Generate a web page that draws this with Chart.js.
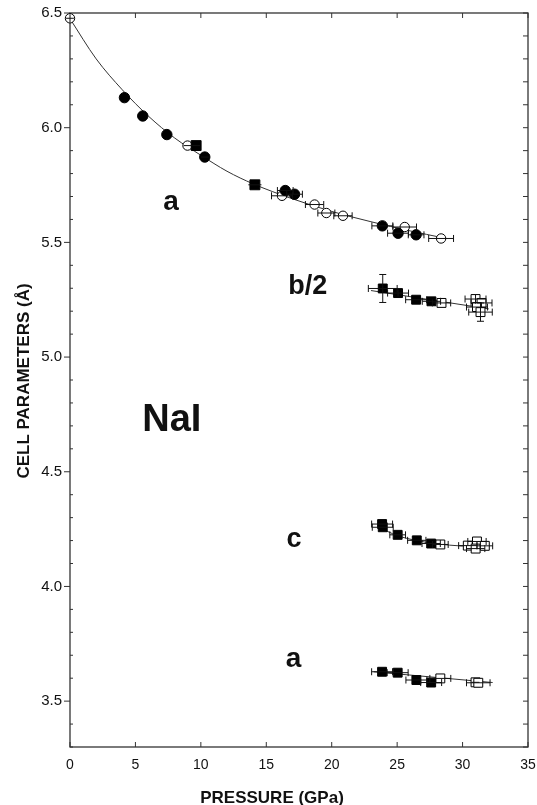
<!DOCTYPE html>
<html>
<head>
<meta charset="utf-8">
<script src="https://cdn.jsdelivr.net/npm/chart.js@4.4.1/dist/chart.umd.min.js"></script>
<style>
	html, body { margin: 0; padding: 0; background: #fff; }
	#wrap { position: relative; width: 537px; height: 805px; }
</style>
</head>
<body>
<div id="wrap"><canvas id="chart"></canvas></div>
<script>
"use strict";

// tick labels
const xTicks = [0, 5, 10, 15, 20, 25, 30, 35];
const yTicks = [3.5, 4.0, 4.5, 5.0, 5.5, 6.0, 6.5];

// a (NaCl-type phase), fitted curve
const aFitP = [0, 2, 4, 6, 8, 10, 12, 14, 17, 20, 23, 26, 28.5];
const aFitV = [6.475, 6.30, 6.165, 6.05, 5.955, 5.88, 5.81, 5.755, 5.69, 5.635, 5.59, 5.55, 5.52];

// a, filled circles
const aFillP = [4.16, 5.56, 7.40, 10.30, 16.45, 17.16, 23.87, 25.07, 26.45];
const aFillV = [6.131, 6.051, 5.970, 5.872, 5.726, 5.710, 5.572, 5.540, 5.533];
const aFillXErr = [0, 0, 0, 0.3, 0.6, 0.6, 0.8, 0.8, 0.6];

// a, filled squares
const aSqP = [9.64, 14.13];
const aSqV = [5.922, 5.751];
const aSqXErr = [0.3, 0.5];

// a, open circles
const aOpenP = [0, 8.98, 16.2, 18.69, 19.59, 20.86, 25.58, 28.36];
const aOpenV = [6.477, 5.922, 5.703, 5.665, 5.628, 5.616, 5.567, 5.517];
const aOpenXErr = [0.3, 0.3, 0.8, 0.7, 0.65, 0.7, 0.9, 0.95];
const aOpenYErr = [0.017, 0, 0, 0, 0, 0, 0, 0];

// b/2 (high pressure phase)
const bFitP = [23.0, 32.0];
const bFitV = [5.29, 5.21];
const bFillP = [23.9, 25.07, 26.45, 27.62];
const bFillV = [5.299, 5.279, 5.250, 5.243];
const bFillXErr = [1.1, 0.8, 0.8, 0.7];
const bFillYErr = [0.061, 0.015, 0, 0];
const bOpenP = [28.39, 30.99, 31.45, 31.1, 31.37];
const bOpenV = [5.236, 5.253, 5.236, 5.218, 5.196];
const bOpenXErr = [0.7, 0.8, 0.8, 0.8, 0.9];
const bOpenYErr = [0, 0.02, 0, 0, 0.04];

// c
const cFitP = [23.6, 25, 26.5, 28, 30, 32];
const cFitV = [4.258, 4.222, 4.2, 4.186, 4.176, 4.172];
const cFillP = [23.85, 23.9, 25.04, 26.5, 27.6];
const cFillV = [4.272, 4.258, 4.225, 4.201, 4.187];
const cFillXErr = [0.8, 0.8, 0.6, 0.7, 0.7];
const cOpenP = [28.3, 30.4, 31.1, 31.0, 31.7];
const cOpenV = [4.183, 4.178, 4.196, 4.165, 4.177];
const cOpenXErr = [0.6, 0.7, 0.7, 0.7, 0.6];

// a (high pressure phase)
const a2FitP = [23.2, 32.3];
const a2FitV = [3.628, 3.581];
const a2FillP = [23.85, 25.04, 26.47, 27.6];
const a2FillV = [3.628, 3.624, 3.592, 3.581];
const a2FillXErr = [0.8, 0.8, 0.8, 0.8];
const a2OpenP = [28.3, 30.99, 31.2];
const a2OpenV = [3.599, 3.582, 3.580];
const a2OpenXErr = [0.8, 0.3, 0.9];

const toPts = (p, v) => p.map((x, i) => ({ x: x, y: v[i] }));

function fitLine(p, v) {
	return {
		data: toPts(p, v),
		showLine: true,
		borderColor: "#333",
		borderWidth: 1,
		pointRadius: 0,
		cubicInterpolationMode: "monotone",
		order: 10
	};
}

function markers(p, v, style, filled, radius, xErr, yErr) {
	return {
		data: toPts(p, v),
		showLine: false,
		pointStyle: style,
		pointRadius: radius,
		pointBackgroundColor: filled ? "#000" : "#fff",
		pointBorderColor: "#000",
		pointBorderWidth: 1,
		clip: false,
		xErr: xErr || [],
		yErr: yErr || [],
		order: 1
	};
}

// horizontal / vertical error bars, drawn through the library scales
const errorBars = {
	id: "errorBars",
	afterDatasetsDraw(chart) {
		const ctx = chart.ctx;
		const xs = chart.scales.x, ys = chart.scales.y;
		ctx.save();
		ctx.strokeStyle = "#111";
		ctx.lineWidth = 1;
		chart.data.datasets.forEach(ds => {
			if (!ds.xErr) return;
			ds.data.forEach((pt, i) => {
				const px = xs.getPixelForValue(pt.x), py = ys.getPixelForValue(pt.y);
				const ex = ds.xErr[i] || 0, ey = ds.yErr[i] || 0;
				const r = ds.pointRadius;
				ctx.beginPath();
				if (ex > 0) {
					const x1 = xs.getPixelForValue(pt.x - ex), x2 = xs.getPixelForValue(pt.x + ex);
					ctx.moveTo(x1, py); ctx.lineTo(x2, py);
					if ((x2 - x1) / 2 > r + 1.5) {
						ctx.moveTo(x1, py - 3.5); ctx.lineTo(x1, py + 3.5);
						ctx.moveTo(x2, py - 3.5); ctx.lineTo(x2, py + 3.5);
					}
				}
				if (ey > 0) {
					const y1 = ys.getPixelForValue(pt.y + ey), y2 = ys.getPixelForValue(pt.y - ey);
					ctx.moveTo(px, y1); ctx.lineTo(px, y2);
					if ((y2 - y1) / 2 > r + 1.5) {
						ctx.moveTo(px - 3.5, y1); ctx.lineTo(px + 3.5, y1);
						ctx.moveTo(px - 3.5, y2); ctx.lineTo(px + 3.5, y2);
					}
				}
				ctx.stroke();
			});
		});
		ctx.restore();
	}
};

// frame, inward ticks, axis titles and labels
const frame = {
	id: "frame",
	beforeDatasetsDraw(chart) {
		const ctx = chart.ctx;
		const a = chart.chartArea;
		const xs = chart.scales.x, ys = chart.scales.y;
		ctx.save();
		ctx.strokeStyle = "#333";
		ctx.lineWidth = 1.3;
		ctx.strokeRect(a.left, a.top, a.right - a.left, a.bottom - a.top);
		ctx.lineWidth = 1;
		ctx.beginPath();
		xTicks.forEach(t => {
			const x = xs.getPixelForValue(t);
			ctx.moveTo(x, a.bottom); ctx.lineTo(x, a.bottom - 5);
			ctx.moveTo(x, a.top); ctx.lineTo(x, a.top + 5);
		});
		for (let k = 33; k <= 65; k++) {
			const y = ys.getPixelForValue(k / 10);
			if (k % 5 === 0) {
				ctx.moveTo(a.left, y); ctx.lineTo(a.left - 6, y);
			} else {
				ctx.moveTo(a.left, y); ctx.lineTo(a.left + 3, y);
			}
			ctx.moveTo(a.right, y); ctx.lineTo(a.right - 5, y);
		}
		ctx.stroke();
		ctx.restore();
	},
	afterDraw(chart) {
		const ctx = chart.ctx;
		const xs = chart.scales.x, ys = chart.scales.y;
		ctx.save();
		ctx.fillStyle = "#111";
		ctx.textAlign = "center";
		ctx.textBaseline = "alphabetic";
		ctx.font = "bold 17px 'Liberation Sans', Arial, sans-serif";
		ctx.fillText("PRESSURE (GPa)", 272, 803);
		ctx.save();
		ctx.translate(29, 381);
		ctx.rotate(-Math.PI / 2);
		ctx.fillText("CELL PARAMETERS (Å)", 0, 0);
		ctx.restore();

		const labels = [
			["a", 7.73, 5.639, 28],
			["b/2", 18.17, 5.276, 27],
			["NaI", 7.78, 4.676, 38],
			["c", 17.12, 4.170, 27],
			["a", 17.09, 3.647, 28]
		];
		labels.forEach(l => {
			ctx.font = "bold " + l[3] + "px 'Liberation Sans', Arial, sans-serif";
			ctx.fillText(l[0], xs.getPixelForValue(l[1]), ys.getPixelForValue(l[2]));
		});
		ctx.restore();
	}
};

const tickFont = { family: "'Liberation Sans', Arial, sans-serif", size: 15 };

new Chart(document.getElementById("chart"), {
	type: "scatter",
	data: {
		datasets: [
			fitLine(aFitP, aFitV),
			fitLine(bFitP, bFitV),
			fitLine(cFitP, cFitV),
			fitLine(a2FitP, a2FitV),
			markers(aFillP, aFillV, "circle", true, 5.2, aFillXErr),
			markers(aSqP, aSqV, "rect", true, 7, aSqXErr),
			markers(aOpenP, aOpenV, "circle", false, 4.7, aOpenXErr, aOpenYErr),
			markers(bFillP, bFillV, "rect", true, 6.3, bFillXErr, bFillYErr),
			markers(bOpenP, bOpenV, "rect", false, 6.3, bOpenXErr, bOpenYErr),
			markers(cFillP, cFillV, "rect", true, 6.3, cFillXErr),
			markers(cOpenP, cOpenV, "rect", false, 6.3, cOpenXErr),
			markers(a2FillP, a2FillV, "rect", true, 6.3, a2FillXErr),
			markers(a2OpenP, a2OpenV, "rect", false, 6.3, a2OpenXErr)
		]
	},
	options: {
		responsive: true,
		maintainAspectRatio: false,
		animation: false,
		layout: { padding: { top: 13, right: 9, left: 0, bottom: 0 } },
		plugins: {
			legend: { display: false },
			tooltip: { enabled: false }
		},
		scales: {
			x: {
				type: "linear",
				min: 0,
				max: 35,
				afterBuildTicks: s => { s.ticks = xTicks.map(v => ({ value: v })); },
				afterFit: s => { s.height = 58; s.paddingLeft = 0; s.paddingRight = 0; },
				grid: { display: false, drawTicks: false },
				border: { display: false },
				ticks: { font: Object.assign({}, tickFont, { size: 14 }), color: "#111", padding: 10 }
			},
			y: {
				type: "linear",
				min: 3.3,
				max: 6.5,
				afterBuildTicks: s => { s.ticks = yTicks.map(v => ({ value: v })); },
				afterFit: s => { s.width = 70; s.paddingTop = 0; s.paddingBottom = 0; },
				grid: { display: false, drawTicks: false },
				border: { display: false },
				ticks: { font: tickFont, color: "#111", padding: 8, callback: v => v.toFixed(1) }
			}
		}
	},
	plugins: [errorBars, frame]
});
</script>
</body>
</html>
